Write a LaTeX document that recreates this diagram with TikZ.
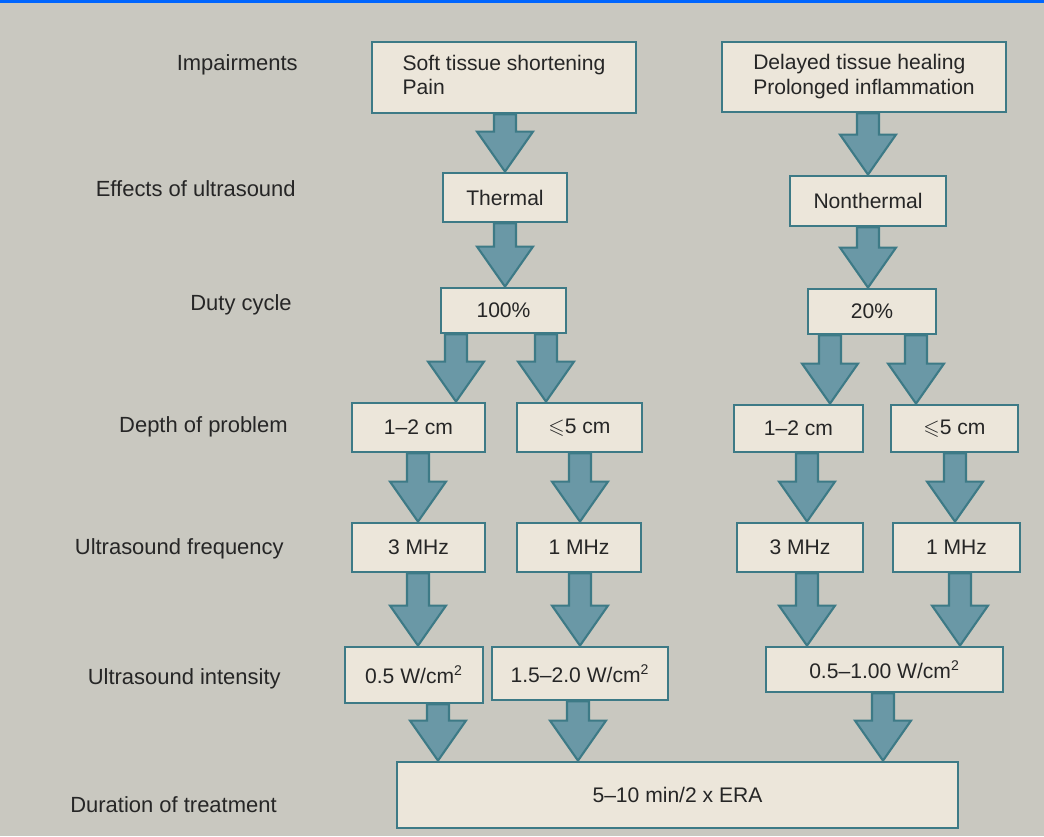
\documentclass[tikz,border=0pt]{standalone}
\usepackage{amssymb}
\usepackage{fontspec}
\setmainfont{Liberation Sans}
\usetikzlibrary{calc}
\definecolor{paper}{HTML}{C9C8C0}
\definecolor{boxfill}{HTML}{ECE6DA}
\definecolor{edge}{HTML}{3D7A86}
\definecolor{arr}{HTML}{6A98A6}
\begin{document}
\begin{tikzpicture}[x=0.02cm,y=-0.02cm,
  box/.style={draw=edge,line width=1.6pt,fill=boxfill,inner sep=0pt,font=\fontsize{12}{14}\selectfont,text=black!85},
  lab/.style={anchor=east,inner sep=0pt,font=\fontsize{12.5}{14}\selectfont,text=black!85},
  blk/.style={fill=arr,draw=edge,line width=1.2pt,line join=miter}]
\useasboundingbox (0,0) rectangle (1044,836);
\fill[paper] (0,0) rectangle (1044,836);
\fill[blue!60!cyan] (0,0) rectangle (1044,3);
\newcommand\bx[6]{\node[box,minimum width={(#4-#2)*0.02cm},minimum height={(#5-#3)*0.02cm}] (#1) at ({(#2+#4)/2},{(#3+#5)/2}) {#6};}
\newcommand\barrow[3]{\path let \p1=(#1.south), \p2=(#2.north) in
  [blk] (#3*0.02cm-11*0.02cm,\y1) -- (#3*0.02cm+11*0.02cm,\y1) -- (#3*0.02cm+11*0.02cm,\y2+40*0.02cm)
  -- (#3*0.02cm+28*0.02cm,\y2+40*0.02cm) -- (#3*0.02cm,\y2) -- (#3*0.02cm-28*0.02cm,\y2+40*0.02cm)
  -- (#3*0.02cm-11*0.02cm,\y2+40*0.02cm) -- cycle;}
% boxes
\bx{imp1}{372}{42}{636}{113}{\begin{tabular}{@{}l@{}}Soft tissue shortening\\Pain\end{tabular}}
\bx{imp2}{722}{42}{1006}{112}{\begin{tabular}{@{}l@{}}Delayed tissue healing\\Prolonged inflammation\end{tabular}}
\bx{th}{443}{173}{567}{222}{Thermal}
\bx{nth}{790}{176}{946}{226}{Nonthermal}
\bx{dc1}{441}{288}{566}{333}{100\%}
\bx{dc2}{808}{289}{936}{334}{20\%}
\bx{d1}{352}{403}{485}{452}{1--2 cm}
\bx{d2}{517}{403}{642}{452}{$\leqslant$5 cm}
\bx{d3}{734}{405}{863}{452}{1--2 cm}
\bx{d4}{891}{405}{1018}{452}{$\leqslant$5 cm}
\bx{f1}{352}{523}{485}{572}{3 MHz}
\bx{f2}{517}{523}{641}{572}{1 MHz}
\bx{f3}{737}{523}{863}{572}{3 MHz}
\bx{f4}{893}{523}{1020}{572}{1 MHz}
\bx{i1}{345}{647}{483}{703}{0.5 W/cm\textsuperscript{2}}
\bx{i2}{492}{647}{668}{700}{1.5--2.0 W/cm\textsuperscript{2}}
\bx{i3}{766}{647}{1003}{692}{0.5--1.00 W/cm\textsuperscript{2}}
\bx{dur}{397}{762}{958}{828}{5--10 min/2 x ERA}
% arrows
\barrow{imp1}{th}{505}
\barrow{imp2}{nth}{868}
\barrow{th}{dc1}{505}
\barrow{nth}{dc2}{868}
\barrow{dc1}{d1}{456}
\barrow{dc1}{d2}{546}
\barrow{dc2}{d3}{830}
\barrow{dc2}{d4}{916}
\barrow{d1}{f1}{418}
\barrow{d2}{f2}{580}
\barrow{d3}{f3}{807}
\barrow{d4}{f4}{955}
\barrow{f1}{i1}{418}
\barrow{f2}{i2}{580}
\barrow{f3}{i3}{807}
\barrow{f4}{i3}{960}
\barrow{i1}{dur}{438}
\barrow{i2}{dur}{578}
\barrow{i3}{dur}{883}
% labels
\node[lab] (l1) at (298,65) {Impairments};
\node[lab] (l2) at (296,189) {Effects of ultrasound};
\node[lab] (l3) at (292,305) {Duty cycle};
\node[lab] (l4) at (288,427) {Depth of problem};
\node[lab] (l5) at (284,549) {Ultrasound frequency};
\node[lab] (l6) at (281,679) {Ultrasound intensity};
\node[lab] (l7) at (277,805) {Duration of treatment};
\end{tikzpicture}
\end{document}
